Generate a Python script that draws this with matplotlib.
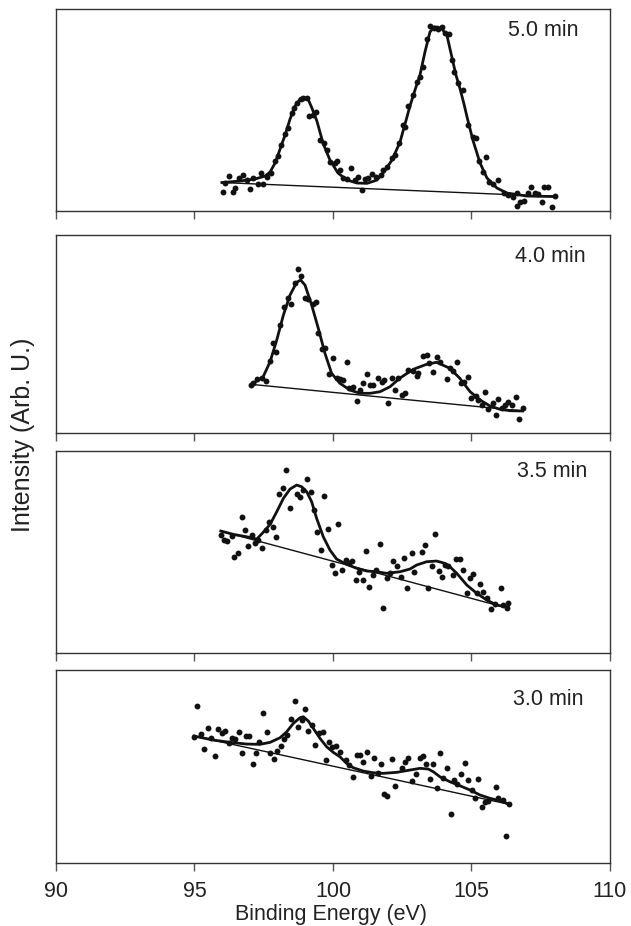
import matplotlib
matplotlib.use("Agg")
import matplotlib.pyplot as plt

plt.rcParams['font.family'] = ['Liberation Sans', 'DejaVu Sans']

# XPS Si 2p spectra after different etch times (intensity in arbitrary units)
labels = ["5.0 min", "4.0 min", "3.5 min", "3.0 min"]

# --- 5.0 min ---
be_5 = [96.02, 96.10, 96.26, 96.38, 96.46, 96.62, 96.76, 96.88, 97.00, 97.12, 97.28, 97.39,
        97.48, 97.63, 97.76, 97.91, 98.03, 98.12, 98.27, 98.36, 98.51, 98.60, 98.69, 98.83,
        98.93, 99.05, 99.14, 99.27, 99.39, 99.53, 99.68, 99.77, 99.89, 100.07, 100.16, 100.25,
        100.37, 100.52, 100.65, 100.79, 100.91, 101.04, 101.16, 101.27, 101.42, 101.55, 101.72,
        101.82, 101.94, 102.12, 102.24, 102.39, 102.52, 102.60, 102.72, 102.90, 103.02, 103.14,
        103.24, 103.38, 103.50, 103.66, 103.80, 103.92, 104.04, 104.19, 104.28, 104.38, 104.52,
        104.68, 104.88, 105.04, 105.16, 105.28, 105.40, 105.52, 105.64, 105.76, 105.97, 106.17,
        106.33, 106.51, 106.63, 106.65, 106.75, 106.90, 107.03, 107.15, 107.29, 107.41, 107.53,
        107.62, 107.77, 107.90, 108.01]
int_5 = [18.7, 28.3, 35, 19.3, 22.7, 32.7, 36.3, 31, 22, 32.7, 27, 37.7,
         27, 33.7, 37.7, 50, 55, 66, 76.7, 82.7, 98.3, 102.7, 107.7, 111.7,
         113.3, 112.7, 95, 96, 99.3, 71, 67.7, 61, 49.3, 47.7, 50, 41,
         32.7, 31.7, 43.3, 31, 34.3, 21, 31.7, 32.7, 37, 34.3, 36,
         41, 44.3, 52.7, 56, 67.7, 86, 84.3, 105, 116, 129.3, 134.3,
         144.3, 171.7, 185, 183, 181.7, 184.3, 177.7, 176.7, 151, 139.3, 127.7,
         121, 86, 74.3, 72.7, 50, 39.3, 53.7, 29.3, 27, 31, 17.7,
         16, 14.3, 17.7, 5.3, 9.3, 10, 17.7, 24.3, 18.3, 16.7, 9.3,
         24.3, 24.3, 3.7, 15]
fit_be_5 = [95.99, 96.64, 97.18, 97.55, 97.73, 97.91, 98.09, 98.27, 98.45, 98.63, 98.81, 98.95,
            99.10, 99.24, 99.42, 99.64, 99.89, 100.18, 100.51, 100.87, 101.23, 101.59, 101.84,
            102.13, 102.42, 102.60, 102.78, 102.96, 103.14, 103.32, 103.50, 103.65, 103.79,
            103.94, 104.12, 104.30, 104.44, 104.58, 104.73, 104.84, 105.05, 105.31, 105.56,
            105.92, 106.28, 107.00, 108.01]
fit_5 = [28.5, 30, 32, 35, 39, 48, 62, 76, 92, 105, 112, 113.5,
         112, 103, 90, 68, 51, 38, 31, 28, 27.7, 31, 39,
         51, 69, 87, 105, 121, 136, 159, 179, 184, 184,
         182, 175, 153, 136, 123, 107, 94, 71, 48, 33,
         23, 18, 15, 14.5]
base_be_5 = [95.99, 108.01]
base_5 = [28.5, 14.5]

# --- 4.0 min ---
be_4 = [97.03, 97.10, 97.25, 97.43, 97.58, 97.73, 97.84, 97.94, 98.09, 98.23, 98.39, 98.48,
        98.63, 98.75, 98.84, 98.99, 99.11, 99.27, 99.39, 99.47, 99.59, 99.71, 99.87, 99.99,
        100.13, 100.25, 100.37, 100.49, 100.59, 100.73, 100.86, 100.97, 101.09, 101.24, 101.34,
        101.45, 101.64, 101.76, 101.84, 102.00, 102.14, 102.24, 102.36, 102.48, 102.60, 102.72,
        102.88, 103.02, 103.08, 103.24, 103.38, 103.48, 103.60, 103.74, 103.86, 104.10, 104.22,
        104.34, 104.49, 104.61, 104.73, 104.88, 104.97, 105.16, 105.25, 105.37, 105.49, 105.61,
        105.77, 105.88, 105.97, 106.09, 106.21, 106.33, 106.45, 106.61, 106.73, 106.85]
int_4 = [48, 49.7, 54, 55.3, 52, 72, 89.7, 80.7, 108, 126.3, 135.3, 129,
         149.7, 163.7, 157, 135.3, 134, 128.7, 130.7, 99.7, 84, 85.3, 58.7, 75.3,
         55.3, 54, 53, 70.7, 44.7, 46.3, 32.3, 43, 49.7, 58.7, 48,
         48, 55.3, 51.3, 53, 29.7, 55.3, 43, 54.7, 38, 39.7, 63,
         62, 57.3, 59.7, 77.3, 78, 69.7, 60.7, 76.3, 70.7, 53.7, 65.3,
         62, 70.7, 49.7, 50.7, 55.7, 35.3, 37.3, 33, 28, 41.3, 23.7,
         29.7, 18, 33.7, 24.7, 28, 31.3, 28, 36.3, 14, 24.7]
fit_be_4 = [97.03, 97.48, 97.73, 97.97, 98.21, 98.45, 98.69, 98.83, 98.99, 99.23, 99.47, 99.71,
            99.95, 100.25, 100.61, 100.97, 101.34, 101.70, 102.06, 102.42, 102.90, 103.38,
            103.74, 104.22, 104.58, 104.95, 105.31, 105.67, 106.03, 106.39, 106.85]
fit_4 = [48, 56.3, 71.3, 93, 118, 138, 150.7, 153, 148, 128, 104.7, 79.7,
         59.7, 49.7, 43, 39.7, 39.7, 41.3, 46.3, 55, 63.7, 68.7,
         70.7, 64.7, 54.7, 41.3, 33, 27, 23.7, 22.3, 22]
base_be_4 = [97.03, 106.85]
base_4 = [48.7, 22]

# --- 3.5 min ---
be_35 = [95.95, 96.06, 96.18, 96.34, 96.44, 96.58, 96.70, 96.82, 96.94, 97.06, 97.18, 97.30,
         97.43, 97.57, 97.70, 97.82, 97.94, 98.06, 98.18, 98.30, 98.45, 98.69, 98.81, 98.93,
         99.07, 99.19, 99.32, 99.43, 99.57, 99.69, 99.83, 99.95, 100.07, 100.19, 100.31, 100.46,
         100.58, 100.70, 100.82, 100.95, 101.07, 101.18, 101.31, 101.43, 101.55, 101.70, 101.82,
         101.94, 102.06, 102.18, 102.30, 102.45, 102.57, 102.68, 102.84, 102.94, 103.20, 103.32,
         103.44, 103.56, 103.68, 103.84, 103.95, 104.04, 104.16, 104.32, 104.44, 104.58, 104.70,
         104.83, 104.95, 105.06, 105.21, 105.31, 105.43, 105.55, 105.69, 105.85, 106.06, 106.15,
         106.27, 106.33]
int_35 = [118, 113, 112, 117.3, 96.3, 100.3, 135.7, 123, 107, 118, 109.7, 113,
          104.7, 123, 130.7, 126.3, 115.7, 158.7, 164.7, 183, 145.3, 158.7, 156.3, 163,
          174, 161.3, 143, 121.3, 103, 157.3, 123.7, 88, 79.7, 129, 83, 93,
          89.7, 92, 73, 80.7, 73, 102.3, 66.3, 78, 83, 109.3, 44.7,
          75.3, 79.7, 92, 87, 76.3, 94.7, 65.3, 99.7, 80.7, 101.3, 108,
          64.7, 87.3, 119, 82, 76.3, 88, 87.3, 78, 94, 94, 83,
          59.7, 74.7, 78.7, 59.7, 68.7, 60.7, 54.7, 44, 48.7, 65.3, 48,
          44.7, 49.7]
fit_be_35 = [95.95, 96.40, 96.88, 97.25, 97.48, 97.73, 97.97, 98.21, 98.45, 98.69, 98.87, 99.05,
             99.23, 99.41, 99.65, 99.89, 100.13, 100.49, 100.86, 101.22, 101.58, 101.94, 102.42,
             102.78, 103.02, 103.38, 103.74, 104.04, 104.22, 104.47, 104.83, 105.19, 105.55,
             105.91, 106.33]
fit_35 = [122, 118.7, 116.3, 114, 120.7, 128.7, 141.3, 154.7, 164, 168, 166.3, 161.3,
          151.3, 134.7, 116.3, 103, 94, 88.7, 84.7, 82, 81.3, 79.7, 81.3,
          84, 88, 91.3, 92, 89.7, 86.3, 79.7, 68, 59.7, 53,
          48, 45.7]
base_be_35 = [95.95, 106.33]
base_35 = [122, 44.7]

# --- 3.0 min ---
be_3 = [94.98, 95.10, 95.22, 95.34, 95.49, 95.61, 95.73, 95.86, 95.98, 96.10, 96.25, 96.36,
        96.46, 96.61, 96.73, 96.85, 96.98, 97.10, 97.22, 97.34, 97.48, 97.61, 97.73, 97.87,
        97.99, 98.11, 98.24, 98.35, 98.48, 98.63, 98.75, 98.87, 98.99, 99.11, 99.25, 99.35,
        99.51, 99.63, 99.74, 99.86, 99.97, 100.10, 100.25, 100.47, 100.58, 100.73, 100.86,
        100.97, 101.09, 101.24, 101.36, 101.48, 101.64, 101.73, 101.85, 101.96, 102.12, 102.24,
        102.48, 102.60, 102.72, 102.84, 103.00, 103.14, 103.24, 103.36, 103.50, 103.62, 103.74,
        103.86, 103.98, 104.10, 104.25, 104.37, 104.49, 104.61, 104.75, 104.86, 105.01, 105.13,
        105.25, 105.37, 105.49, 105.61, 105.88, 105.97, 106.13, 106.25, 106.36]
int_3 = [126.3, 157.3, 128.7, 114, 135.3, 125.3, 107.3, 134, 129.7, 132, 119.7, 125.3,
         124, 130.7, 109.7, 127.3, 126.7, 98.7, 110.3, 120.7, 149.7, 131.3, 109.7, 103.7,
         112.3, 117, 124, 128, 144, 162.3, 135.7, 143, 153.7, 132, 138, 118,
         129.7, 130.7, 103, 121.3, 116.3, 117, 111.3, 103, 98, 86.3, 108,
         108, 101.3, 110.7, 87.3, 105.3, 89.7, 99, 68.7, 67, 104, 77,
         95.3, 101.3, 104.7, 82, 89, 104.7, 107.3, 98.7, 84, 98.7, 75.3,
         109.7, 84.7, 95.3, 49, 83, 78.7, 88.7, 100.3, 83, 73, 64.7,
         84, 56.3, 61.3, 62, 76.3, 65.3, 63, 27, 58.7]
fit_be_3 = [94.98, 95.68, 96.28, 96.88, 97.36, 97.73, 98.09, 98.33, 98.57, 98.81, 98.93, 99.11,
            99.29, 99.53, 99.77, 100.01, 100.25, 100.49, 100.73, 101.09, 101.45, 101.82, 102.30,
            102.78, 103.14, 103.44, 103.62, 103.86, 104.22, 104.58, 104.95, 105.31, 105.67,
            106.03, 106.36]
fit_3 = [127, 123, 120.7, 119, 118.7, 120.7, 125.3, 131.3, 139.7, 145.3, 146.3, 142,
         134.7, 124.7, 116.3, 110.7, 106.3, 99.7, 95.3, 92, 90.3, 89.7, 90.7,
         93, 94.7, 94, 91.3, 86.3, 81.3, 77.3, 73, 68, 64.7,
         62.3, 58.7]
base_be_3 = [94.98, 106.36]
base_3 = [127, 58.7]

points = [(be_5, int_5), (be_4, int_4), (be_35, int_35), (be_3, int_3)]
fits = [(fit_be_5, fit_5), (fit_be_4, fit_4), (fit_be_35, fit_35), (fit_be_3, fit_3)]
bases = [(base_be_5, base_5), (base_be_4, base_4), (base_be_35, base_35), (base_be_3, base_3)]

# panel layout (left, bottom, width, height) and y range of each panel
rects = [[0.0887, 0.7721, 0.878, 0.2181],
         [0.0887, 0.5324, 0.878, 0.2138],
         [0.0887, 0.2948, 0.878, 0.2181],
         [0.0887, 0.0680, 0.878, 0.2084]]
ytops = [202, 198, 202, 193]
label_pos = [(0.879, 0.896), (0.892, 0.889), (0.895, 0.898), (0.888, 0.845)]

fig = plt.figure(figsize=(6.31, 9.26), dpi=100)

for i in range(4):
    ax = fig.add_axes(rects[i])
    x, y = points[i]
    ax.scatter(x, y, s=18, color='#111111', linewidths=0, zorder=3)
    fx, fy = fits[i]
    ax.plot(fx, fy, color='#111111', linewidth=2.0, zorder=2,
            solid_joinstyle='round')
    bx, by = bases[i]
    ax.plot(bx, by, color='#111111', linewidth=1.0, zorder=2)

    ax.set_xlim(90, 110)
    ax.set_ylim(0, ytops[i])
    ax.set_xticks([90, 95, 100, 105, 110])
    ax.set_yticks([])
    ax.tick_params(axis='x', direction='out', length=6, width=1, color='#555555',
                   labelsize=15.5, pad=7, labelcolor='#222222')
    if i < 3:
        ax.tick_params(axis='x', labelbottom=False)
    for sp in ax.spines.values():
        sp.set_linewidth(1.0)
        sp.set_color('#333333')
    ax.text(label_pos[i][0], label_pos[i][1], labels[i], transform=ax.transAxes,
            ha='center', va='center', fontsize=15.5, color='#222222')

fig.text(331 / 631, 1 - 920 / 926, "Binding Energy (eV)", ha='center', va='baseline',
         fontsize=15.5, color='#222222')
fig.text(23 / 631, 1 - 435 / 926, "Intensity (Arb. U.)", ha='center', va='center',
         rotation=90, fontsize=18, color='#222222')

fig.savefig("out.png", dpi=100)
